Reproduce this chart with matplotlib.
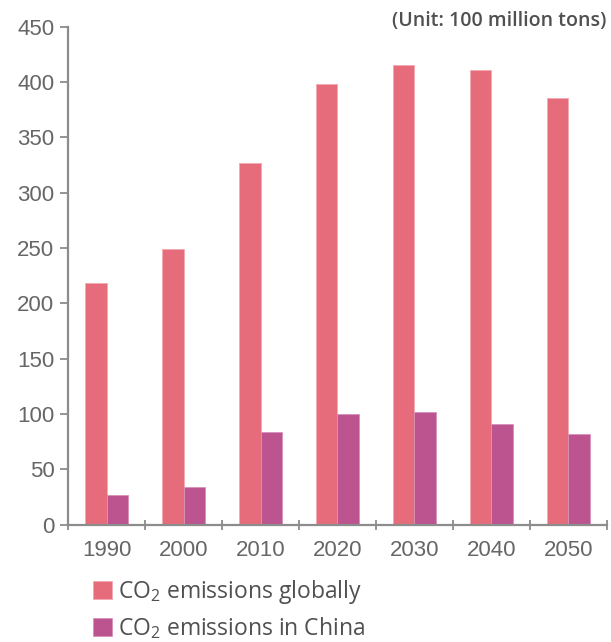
#!/usr/bin/env python
"""
Bar chart of CO2 emissions globally and in China, 1990 - 2050
"""

import numpy as np
import matplotlib
matplotlib.use("Agg")
import matplotlib.pyplot as plt


# Data (unit: 100 million tons)
YEARS = ["1990", "2000", "2010", "2020", "2030", "2040", "2050"]
GLOBAL = [218, 249, 327, 398, 415, 411, 386]
CHINA = [27, 34, 84, 100, 102, 91, 82]

LABEL_GLOBAL = "CO$_2$ emissions globally"
LABEL_CHINA = "CO$_2$ emissions in China"
UNIT_TEXT = "(Unit: 100 million tons)"

COLOR_GLOBAL = "#e66c7b"
COLOR_CHINA = "#bc5490"
AXIS_COLOR = "#8c8c8c"
TICK_TEXT = "#666666"
TEXT_COLOR = "#505050"

plt.rcParams["mathtext.fontset"] = "custom"
plt.rcParams["mathtext.rm"] = "Open Sans"
plt.rcParams["mathtext.it"] = "Open Sans"
plt.rcParams["mathtext.bf"] = "Open Sans"


def draw_chart():
    fig = plt.figure(figsize=(6.11, 6.42), dpi=100)
    ax = fig.add_axes([0.1118, 0.1827, 0.8810, 0.7757])

    x = np.arange(len(YEARS))
    width = 0.28

    # Bars, global left of the group centre and China right of it
    ax.bar(x - width / 2, GLOBAL, width, color=COLOR_GLOBAL,
           edgecolor="#f2a9b2", linewidth=0.6, label=LABEL_GLOBAL)
    ax.bar(x + width / 2, CHINA, width, color=COLOR_CHINA,
           edgecolor="#d692b9", linewidth=0.6, label=LABEL_CHINA)

    ax.set_xlim(-0.5, len(YEARS) - 0.5)
    ax.set_ylim(0, 450)

    # Axis style
    for side in ["top", "right"]:
        ax.spines[side].set_visible(False)
    for side in ["left", "bottom"]:
        ax.spines[side].set_color(AXIS_COLOR)
        ax.spines[side].set_linewidth(1.6)

    ax.set_yticks(range(0, 451, 50))
    ax.tick_params(axis="y", direction="out", length=6, width=1.3,
                   color=AXIS_COLOR, labelcolor=TICK_TEXT, labelsize=16,
                   pad=4)

    # Group separators as bottom ticks, year labels in the middle
    ax.set_xticks(np.arange(len(YEARS) + 1) - 0.5)
    ax.set_xticklabels([])
    ax.set_xticks(x, minor=True)
    ax.set_xticklabels(YEARS, minor=True)
    ax.tick_params(axis="x", which="major", direction="inout", length=7,
                   width=1.3, color=AXIS_COLOR)
    ax.tick_params(axis="x", which="minor", length=0, labelcolor=TICK_TEXT,
                   labelsize=16, pad=11)

    for label in ax.get_xticklabels(minor=True) + ax.get_yticklabels():
        label.set_family("Liberation Sans")

    # Unit note in the top right corner
    fig.text(0.993, 0.968, UNIT_TEXT, ha="right", va="center",
             fontsize=14, fontweight="semibold", family="Open Sans",
             color=TEXT_COLOR)

    # Legend below the axis
    fig.legend(loc="upper left", bbox_to_anchor=(0.152, 0.1),
               frameon=False, ncol=1, prop={"family": "Open Sans", "size": 16.5},
               handlelength=0.85, handleheight=0.85, handletextpad=0.25,
               labelspacing=0.4, borderpad=0, borderaxespad=0,
               labelcolor=TEXT_COLOR)

    fig.savefig("out.png", dpi=100)


if __name__ == "__main__":
    draw_chart()
